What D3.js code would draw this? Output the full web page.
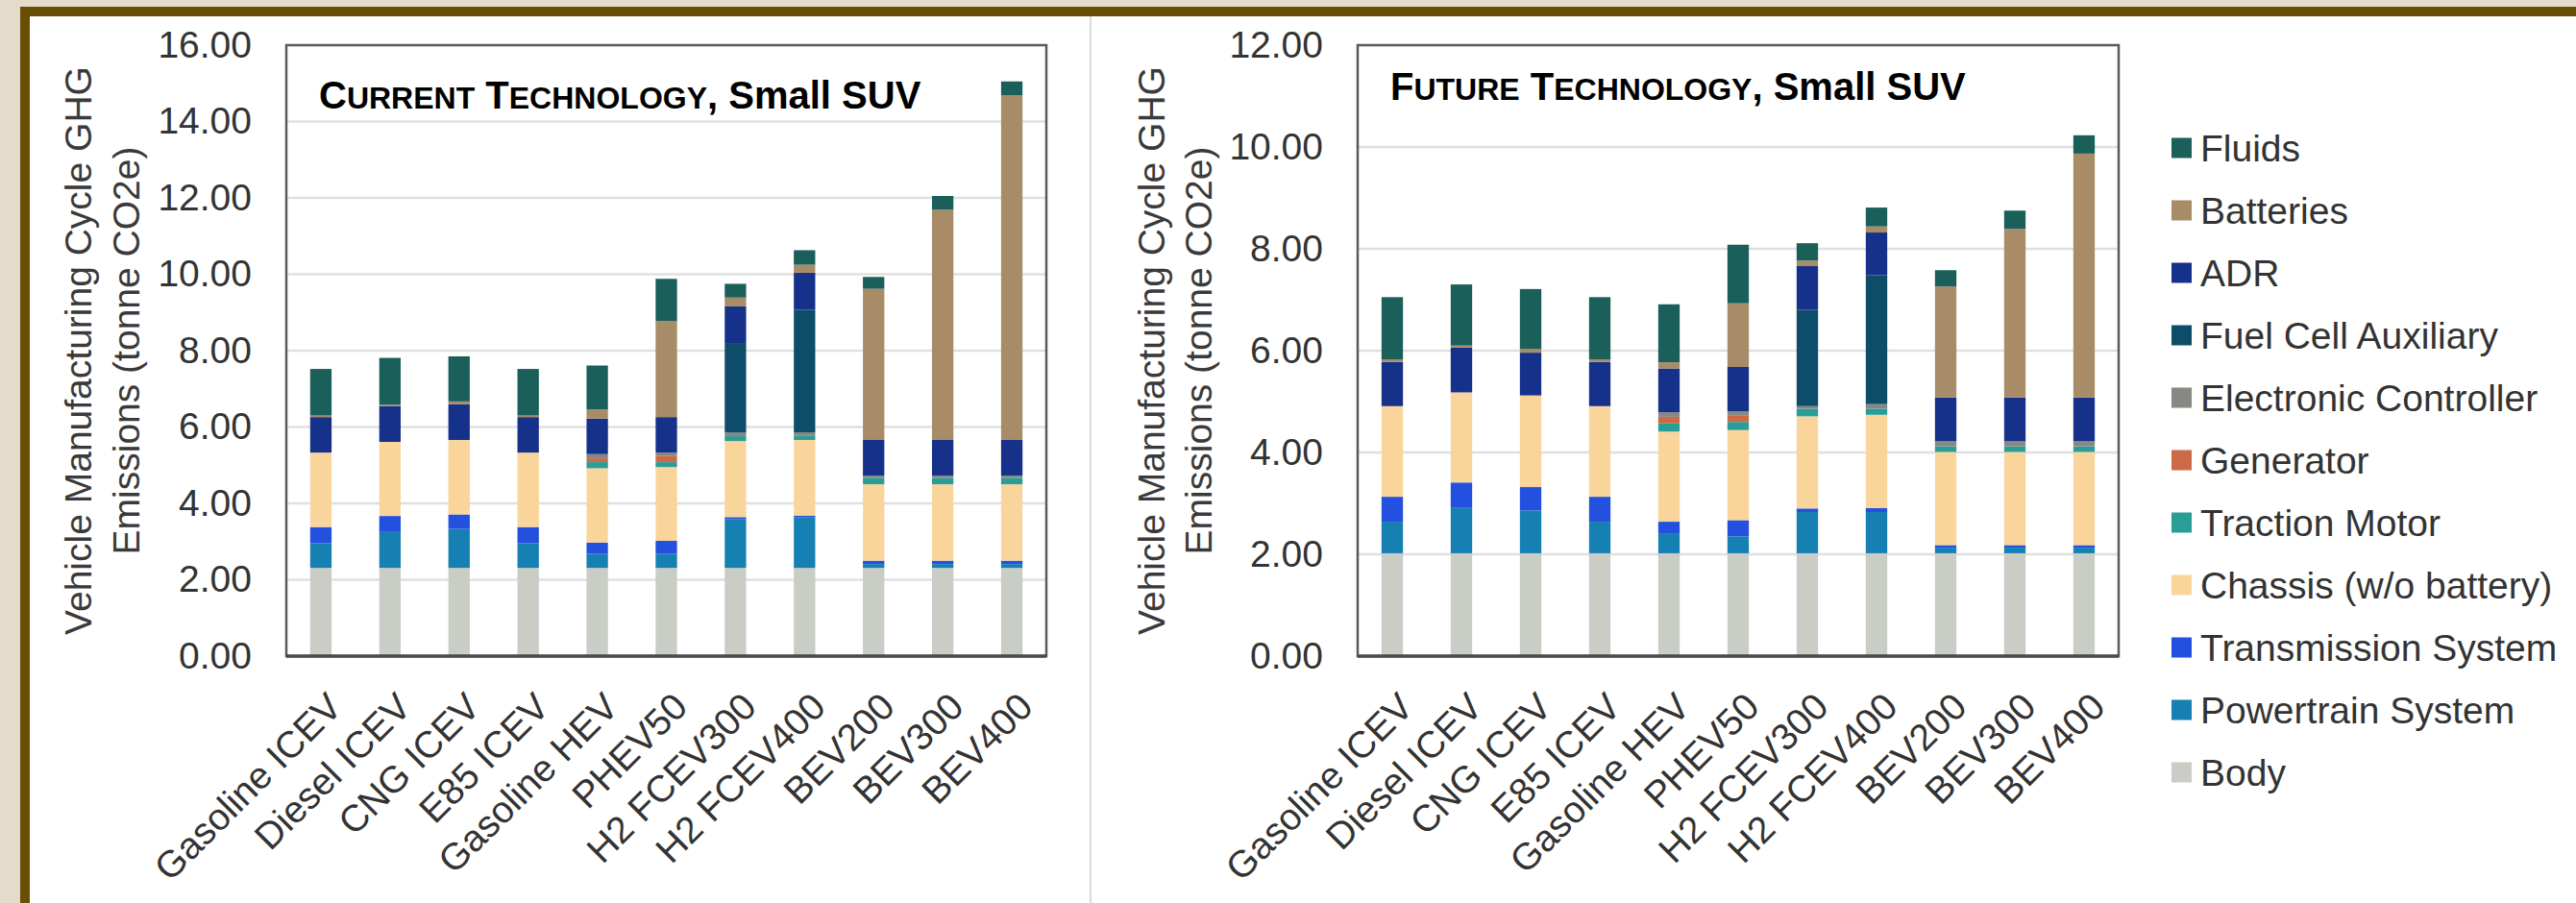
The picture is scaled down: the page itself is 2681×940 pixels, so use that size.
<!DOCTYPE html>
<html>
<head>
<meta charset="utf-8">
<script src="https://cdn.jsdelivr.net/npm/d3@7"></script>
<style>
  html, body { margin: 0; padding: 0; background: #e3dccb; }
  svg { display: block; }
  text { font-family: "Liberation Sans", Arial, sans-serif; }
</style>
</head>
<body>
<svg id="chart" width="2681" height="940"></svg>
<script>
// ---------------- DATA ----------------
const categories = ["Gasoline ICEV", "Diesel ICEV", "CNG ICEV", "E85 ICEV", "Gasoline HEV",
  "PHEV50", "H2 FCEV300", "H2 FCEV400", "BEV200", "BEV300", "BEV400"];

// stacking order, bottom to top
const seriesNames = ["Body", "Powertrain System", "Transmission System", "Chassis (w/o battery)",
  "Traction Motor", "Generator", "Electronic Controller", "Fuel Cell Auxiliary", "ADR", "Batteries", "Fluids"];

const seriesColors = ["#c9cdc6", "#1580b1", "#2450e0", "#f9d59c", "#2a9e96", "#cc6a47",
  "#868884", "#0e4d6a", "#16318a", "#a88c68", "#1b5f5a"];

// Current technology (tonne CO2e)
const curBody         = [2.31, 2.31, 2.31, 2.31, 2.31, 2.31, 2.31, 2.31, 2.31, 2.31, 2.31];
const curPowertrain   = [0.65, 0.94, 1.02, 0.65, 0.37, 0.37, 1.28, 1.33, 0.10, 0.10, 0.10];
const curTransmission = [0.42, 0.42, 0.38, 0.42, 0.29, 0.34, 0.05, 0.04, 0.09, 0.09, 0.09];
const curChassis      = [1.95, 1.94, 1.95, 1.95, 1.95, 1.93, 1.99, 1.98, 2.00, 2.00, 2.00];
const curTraction     = [0, 0, 0, 0, 0.16, 0.13, 0.13, 0.12, 0.17, 0.17, 0.17];
const curGenerator    = [0, 0, 0, 0, 0.10, 0.17, 0, 0, 0, 0, 0];
const curElectronic   = [0, 0, 0, 0, 0.11, 0.08, 0.10, 0.08, 0.06, 0.06, 0.06];
const curFuelCell     = [0, 0, 0, 0, 0, 0, 2.34, 3.21, 0, 0, 0];
const curADR          = [0.93, 0.94, 0.94, 0.93, 0.93, 0.93, 0.96, 0.97, 0.93, 0.93, 0.93];
const curBatteries    = [0.04, 0.03, 0.07, 0.04, 0.24, 2.52, 0.23, 0.21, 3.96, 6.03, 9.03];
const curFluids       = [1.22, 1.23, 1.18, 1.22, 1.15, 1.10, 0.36, 0.38, 0.31, 0.36, 0.36];

// Future technology (tonne CO2e)
const futBody         = [2.02, 2.02, 2.02, 2.02, 2.02, 2.02, 2.02, 2.02, 2.02, 2.02, 2.02];
const futPowertrain   = [0.62, 0.89, 0.84, 0.62, 0.38, 0.33, 0.81, 0.81, 0.11, 0.11, 0.11];
const futTransmission = [0.49, 0.50, 0.46, 0.49, 0.24, 0.32, 0.07, 0.08, 0.05, 0.05, 0.05];
const futChassis      = [1.78, 1.77, 1.80, 1.78, 1.77, 1.77, 1.81, 1.83, 1.83, 1.83, 1.83];
const futTraction     = [0, 0, 0, 0, 0.16, 0.16, 0.15, 0.12, 0.11, 0.11, 0.11];
const futGenerator    = [0, 0, 0, 0, 0.13, 0.12, 0, 0, 0, 0, 0];
const futElectronic   = [0, 0, 0, 0, 0.09, 0.09, 0.05, 0.09, 0.10, 0.10, 0.10];
const futFuelCell     = [0, 0, 0, 0, 0, 0, 1.89, 2.53, 0, 0, 0];
const futADR          = [0.87, 0.88, 0.84, 0.87, 0.86, 0.87, 0.86, 0.84, 0.86, 0.86, 0.86];
const futBatteries    = [0.05, 0.04, 0.07, 0.05, 0.12, 1.25, 0.11, 0.12, 2.18, 3.31, 4.79];
const futFluids       = [1.22, 1.20, 1.18, 1.22, 1.14, 1.15, 0.34, 0.37, 0.32, 0.36, 0.36];

const yTicksCurrent = [0, 2, 4, 6, 8, 10, 12, 14, 16];
const yTicksFuture  = [0, 2, 4, 6, 8, 10, 12];

const yTitleLines = ["Vehicle Manufacturing Cycle GHG", "Emissions (tonne CO2e)"];
// title pieces: [text, isSmall]
const titleCurrent = [["C", false], ["URRENT", true], [" T", false], ["ECHNOLOGY", true], [", Small SUV", false]];
const titleFuture  = [["F", false], ["UTURE", true], [" T", false], ["ECHNOLOGY", true], [", Small SUV", false]];

// ---------------- DRAW ----------------
const svg = d3.select("#chart");
const W = 2681, H = 940;

// frame
svg.append("rect").attr("x", 0).attr("y", 0).attr("width", W).attr("height", H).attr("fill", "#e3dccb");
svg.append("rect").attr("x", 21).attr("y", 7).attr("width", W - 21).attr("height", H - 7).attr("fill", "#6a4e05");
svg.append("rect").attr("x", 31).attr("y", 17).attr("width", W - 31).attr("height", H - 17).attr("fill", "#ffffff");
// divider
svg.append("line").attr("x1", 1135).attr("x2", 1135).attr("y1", 17).attr("y2", H)
  .attr("stroke", "#dadada").attr("stroke-width", 2);

function buildTable(arrs) {
  return categories.map((c, i) => {
    const row = { category: c };
    seriesNames.forEach((s, k) => row[s] = arrs[k][i]);
    return row;
  });
}

const currentTable = buildTable([curBody, curPowertrain, curTransmission, curChassis, curTraction,
  curGenerator, curElectronic, curFuelCell, curADR, curBatteries, curFluids]);
const futureTable = buildTable([futBody, futPowertrain, futTransmission, futChassis, futTraction,
  futGenerator, futElectronic, futFuelCell, futADR, futBatteries, futFluids]);

const color = d3.scaleOrdinal().domain(seriesNames).range(seriesColors);

function drawPanel(opt) {
  const { table, left, right, top, bottom, yMax, yTicks, title, titleY, yTitleX1, yTitleX2 } = opt;
  const x = d3.scaleBand().domain(categories).range([left, right]);
  const y = d3.scaleLinear().domain([0, yMax]).range([bottom, top]);
  const g = svg.append("g");

  // gridlines
  g.append("g").selectAll("line").data(yTicks.filter(d => d > 0 && d < yMax)).join("line")
    .attr("x1", left).attr("x2", right)
    .attr("y1", d => y(d)).attr("y2", d => y(d))
    .attr("stroke", "#e0e0e0").attr("stroke-width", 2.5);

  // bars
  const stacked = d3.stack().keys(seriesNames)(table);
  const bw = x.bandwidth() * 0.31;
  g.append("g").selectAll("g").data(stacked).join("g")
    .attr("fill", d => color(d.key))
    .selectAll("rect").data(d => d.filter(p => p[1] - p[0] > 0)).join("rect")
    .attr("x", d => x(d.data.category) + (x.bandwidth() - bw) / 2)
    .attr("width", bw)
    .attr("y", d => y(d[1]))
    .attr("height", d => y(d[0]) - y(d[1]));

  // plot frame
  g.append("rect").attr("x", left).attr("y", top).attr("width", right - left).attr("height", bottom - top)
    .attr("fill", "none").attr("stroke", "#5a5a5a").attr("stroke-width", 2.5);
  g.append("line").attr("x1", left).attr("x2", right).attr("y1", bottom).attr("y2", bottom)
    .attr("stroke", "#4a4a4a").attr("stroke-width", 3.5);

  // y axis
  const ya = g.append("g").attr("transform", `translate(${left},0)`)
    .call(d3.axisLeft(y).tickValues(yTicks).tickFormat(d3.format(".2f")).tickSize(0).tickPadding(36));
  ya.select(".domain").remove();
  ya.selectAll("text").attr("font-size", 39).attr("fill", "#333").attr("font-family", "Liberation Sans, Arial, sans-serif");

  // x axis
  const xa = g.append("g").attr("transform", `translate(0,${bottom})`)
    .call(d3.axisBottom(x).tickSize(0));
  xa.select(".domain").remove();
  xa.selectAll("text")
    .attr("x", 0).attr("y", 0).attr("dy", 0)
    .attr("transform", "translate(24,55) rotate(-45)")
    .style("text-anchor", "end")
    .attr("font-size", 39).attr("fill", "#333").attr("font-family", "Liberation Sans, Arial, sans-serif");

  // y title
  const cy = (top + bottom) / 2;
  [yTitleX1, yTitleX2].forEach((tx, i) => {
    g.append("text").attr("transform", `translate(${tx},${cy}) rotate(-90)`)
      .attr("text-anchor", "middle").attr("font-size", 39).attr("fill", "#3a3a3a")
      .text(yTitleLines[i]);
  });

  // title
  const t = g.append("text").attr("x", left + 34).attr("y", titleY)
    .attr("font-weight", "bold").attr("fill", "#000");
  title.forEach(([s, small]) => {
    t.append("tspan").attr("font-size", small ? 32 : 40).text(s);
  });
}

drawPanel({ table: currentTable, left: 298, right: 1089, top: 47, bottom: 683, yMax: 16,
  yTicks: yTicksCurrent, title: titleCurrent, titleY: 113, yTitleX1: 95, yTitleX2: 145 });
drawPanel({ table: futureTable, left: 1413, right: 2205, top: 47, bottom: 683, yMax: 12,
  yTicks: yTicksFuture, title: titleFuture, titleY: 104, yTitleX1: 1212, yTitleX2: 1261 });

// legend (top to bottom: reverse of stacking order)
const legendItems = seriesNames.slice().reverse();
const lg = svg.append("g");
const li = lg.selectAll("g").data(legendItems).join("g")
  .attr("transform", (d, i) => `translate(2260,${154 + i * 65})`);
li.append("rect").attr("x", 0).attr("y", -10.5).attr("width", 21).attr("height", 21).attr("fill", d => color(d));
li.append("text").attr("x", 30).attr("y", 0).attr("dy", "0.35em")
  .attr("font-size", 39).attr("fill", "#333").text(d => d);
</script>
</body>
</html>
